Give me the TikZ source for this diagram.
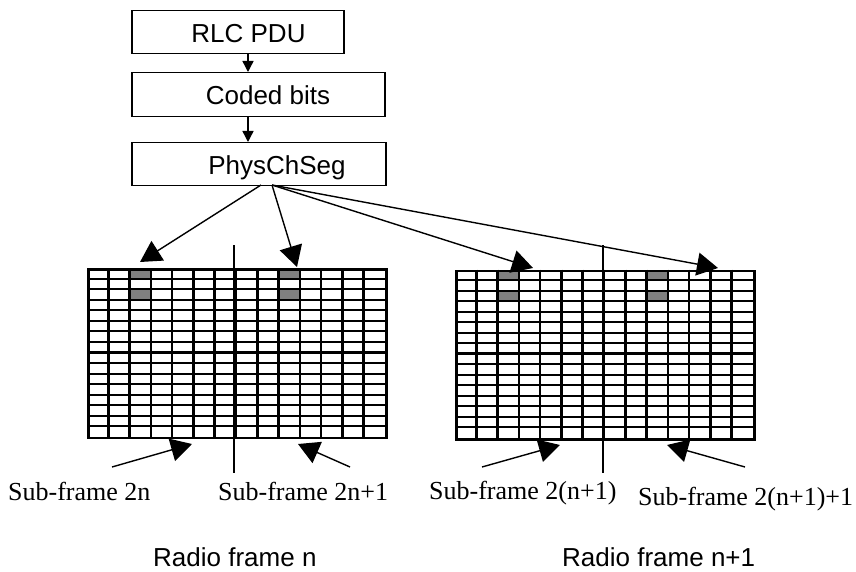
\documentclass[tikz,border=0pt]{standalone}
\usepackage{fontspec}
\setmainfont{Liberation Serif}
\newfontfamily\arialf{Liberation Sans}
\usetikzlibrary{arrows.meta,calc}
\begin{document}
\begin{tikzpicture}[x=1pt,y=-1pt,
  boxst/.style={draw, line width=1.5pt, anchor=north west, inner sep=0pt},
  btext/.style={font=\arialf\fontsize{26}{30}\selectfont, inner sep=0pt, anchor=base},
  stext/.style={font=\fontsize{26}{30}\selectfont, inner sep=0pt, anchor=base west},
  rtext/.style={font=\arialf\fontsize{26}{30}\selectfont, inner sep=0pt, anchor=base west},
  bigarr/.style={line width=1.4pt, -{Triangle[length=21pt,width=23pt]}},
  smallarr/.style={line width=1.4pt, -{Triangle[length=11pt,width=11pt]}},
  gridv/.style={line width=2.6pt},
  gridh/.style={line width=2pt},
  gridframe/.style={draw, line width=2.6pt, anchor=north west, inner sep=0pt, minimum width=298pt, minimum height=168.5pt},
  cellshade/.style={fill={rgb,255:red,128;green,128;blue,128}},
  divider/.style={line width=1.2pt}]
\useasboundingbox (0,0) rectangle (856,572);

% top boxes
\node[boxst, minimum width=212pt, minimum height=43pt] (rlc) at (131,10) {};
\node[btext] (rlct) at (248.5,43) {RLC PDU};
\node[boxst, minimum width=253pt, minimum height=44pt] (coded) at (131,72) {};
\node[btext] (codedt) at (268,105) {Coded bits};
\node[boxst, minimum width=254pt, minimum height=43pt] (phys) at (131,142) {};
\node[btext] (physt) at (277,175) {PhysChSeg};

\draw[smallarr] (rlc.south -| 248,0) -- (coded.north -| 248,0);
\draw[smallarr] (coded.south -| 248,0) -- (phys.north -| 248,0);

% grids
\foreach \gx/\gy/\nm in {87/268.3/gridL, 455/269.5/gridR}{
  \foreach \c in {2,9}{
    \foreach \r in {0,2}{
      \fill[cellshade] ({\gx+\c*21.2857},{\gy+\r*10.53}) rectangle ++(21.2857,10.53);
    }
  }
  \foreach \i in {1,...,13}{
    \draw[gridv] ({\gx+\i*21.2857},\gy) -- ++(0,168.5);
  }
  \foreach \j in {1,...,15}{
    \draw[gridh] (\gx,{\gy+\j*10.53}) -- ++(298,0);
  }
  \draw[line width=2.8pt] (\gx,{\gy+84.24}) -- ++(298,0);
  \node[gridframe] (\nm) at (\gx,\gy) {};
}

% frame dividers
\coordinate (dLt) at (234,245);
\coordinate (dLb) at (234,473);
\coordinate (dRt) at (603,245);
\coordinate (dRb) at (603,473);
\draw[divider] (dLt) -- (dLb);
\draw[divider] (dRt) -- (dRb);

% arrows from PhysChSeg
\coordinate (pA) at (261,185);
\coordinate (pB) at (272,185);
\coordinate (t1) at (140,262);
\coordinate (t2) at (297,267);
\coordinate (t3) at (533,268);
\coordinate (t4) at (718,268);
\draw[bigarr] (pA) -- (t1);
\draw[bigarr] (pB) -- (t2);
\draw[bigarr] (pB) -- (t3);
\draw[bigarr] (pB) -- (t4);

% bottom arrows
\coordinate (s1) at (112,467);
\coordinate (u1) at (192,444);
\coordinate (s2) at (350,467);
\coordinate (u2) at (298,444);
\coordinate (s3) at (482,467);
\coordinate (u3) at (560,445);
\coordinate (s4) at (745,467);
\coordinate (u4) at (667,445);
\draw[bigarr] (s1) -- (u1);
\draw[bigarr] (s2) -- (u2);
\draw[bigarr] (s3) -- (u3);
\draw[bigarr] (s4) -- (u4);

% labels
\node[stext] (l1) at (8,500) {Sub-frame 2n};
\node[stext] (l2) at (218,500) {Sub-frame 2n+1};
\node[stext] (l3) at (429,499) {Sub-frame 2(n+1)};
\node[stext] (l4) at (638,505) {Sub-frame 2(n+1)+1};
\node[rtext] (r1) at (153,566) {Radio frame n};
\node[rtext] (r2) at (562,566) {Radio frame n+1};
\end{tikzpicture}
\end{document}
